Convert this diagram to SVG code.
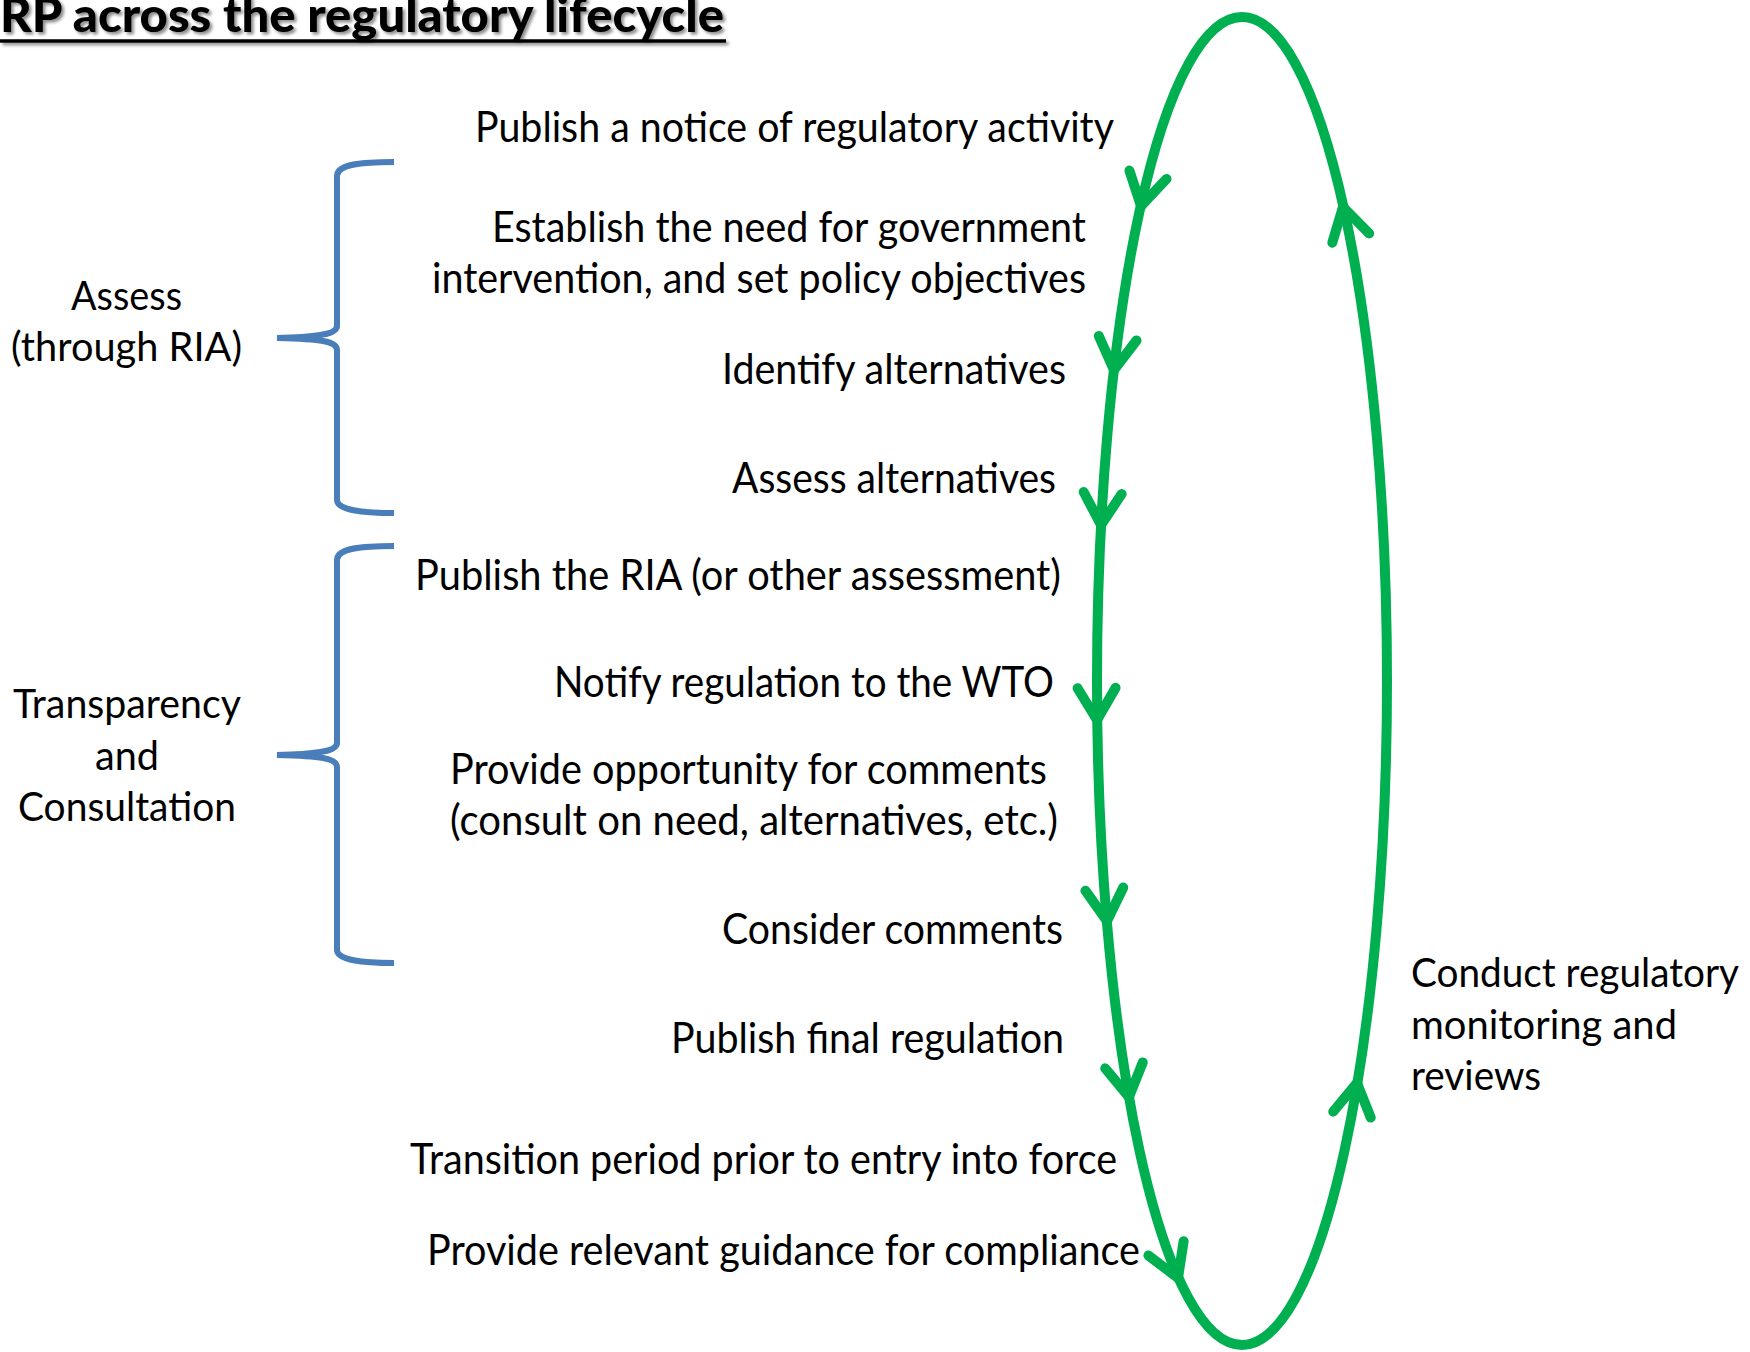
<svg xmlns="http://www.w3.org/2000/svg" xmlns:xlink="http://www.w3.org/1999/xlink" width="1750" height="1352" viewBox="0 0 1750 1352">
  <style>
    .t { font-family: Lato, "Open Sans", "Liberation Sans", sans-serif; font-size: 42px; fill: #000; }
    .lbl { font-family: Lato, "Open Sans", "Liberation Sans", sans-serif; font-size: 41px; fill: #000; }
    .title { font-family: Lato, "Liberation Sans", sans-serif; font-size: 47px; font-weight: 900; fill: #000; }
    .loop { fill: none; stroke: #00B050; stroke-width: 10; }
    .chev { fill: none; stroke: #00B050; stroke-width: 10; stroke-linecap: round; stroke-linejoin: round; }
    .brace { fill: none; stroke: #4A7EBB; stroke-width: 6; stroke-linecap: butt; }
  </style>
  <defs>
    <path id="chev" class="chev" d="M-19,-32 L0,0 L19,-32"/>
    <filter id="shadow" x="-5%" y="-50%" width="110%" height="200%">
      <feDropShadow dx="2.5" dy="2.5" stdDeviation="1.5" flood-color="#000" flood-opacity="0.45"/>
    </filter>
  </defs>
  <rect width="1750" height="1352" fill="#fff"/>

  <g id="title" filter="url(#shadow)">
    <text class="title" x="0" y="32" textLength="724" lengthAdjust="spacingAndGlyphs">RP across the regulatory lifecycle</text>
    <line x1="0" y1="41" x2="726" y2="41" stroke="#000" stroke-width="3.5"/>
  </g>

  <g id="connectors">
    <ellipse class="loop" cx="1242" cy="681" rx="145" ry="664"/>
    <use xlink:href="#chev" href="#chev" transform="translate(1141,206) rotate(12.6)"/>
    <use xlink:href="#chev" href="#chev" transform="translate(1114,370) rotate(6.6)"/>
    <use xlink:href="#chev" href="#chev" transform="translate(1101,525) rotate(3)"/>
    <use xlink:href="#chev" href="#chev" transform="translate(1097,720) rotate(-0.7)"/>
    <use xlink:href="#chev" href="#chev" transform="translate(1107,921) rotate(-4.8)"/>
    <use xlink:href="#chev" href="#chev" transform="translate(1129,1097) rotate(-9)"/>
    <use xlink:href="#chev" href="#chev" transform="translate(1178,1278) rotate(-22)"/>
    <use xlink:href="#chev" href="#chev" transform="translate(1343,207) rotate(166)"/>
    <use xlink:href="#chev" href="#chev" transform="translate(1357,1083) rotate(-171)"/>
  </g>

  <g id="brace-assess">
    <path class="brace" d="M394,162 C362,162 337,164 337,176 L337,326 C337,334 320,337 277,338 C320,339 337,341 337,350 L337,500 C337,510 362,513 394,513"/>
  </g>
  <g id="brace-transparency">
    <path class="brace" d="M394,546 C362,546 337,548 337,560 L337,743 C337,751 320,754 277,755 C320,756 337,758 337,767 L337,950 C337,960 362,963 394,963"/>
  </g>

  <g id="step-publish-notice"><text class="t" x="475" y="142" textLength="639" lengthAdjust="spacingAndGlyphs">Publish a notice of regulatory activity</text></g>
  <g id="step-establish-need">
    <text class="t" x="492" y="242" textLength="594" lengthAdjust="spacingAndGlyphs">Establish the need for government</text>
    <text class="t" x="432" y="293" textLength="654" lengthAdjust="spacingAndGlyphs">intervention, and set policy objectives</text>
  </g>
  <g id="step-identify"><text class="t" x="722" y="384" textLength="344" lengthAdjust="spacingAndGlyphs">Identify alternatives</text></g>
  <g id="step-assess"><text class="t" x="732" y="493" textLength="324" lengthAdjust="spacingAndGlyphs">Assess alternatives</text></g>
  <g id="step-publish-ria"><text class="t" x="415" y="590" textLength="646" lengthAdjust="spacingAndGlyphs">Publish the RIA (or other assessment)</text></g>
  <g id="step-notify-wto"><text class="t" x="554" y="697" textLength="500" lengthAdjust="spacingAndGlyphs">Notify regulation to the WTO</text></g>
  <g id="step-comments">
    <text class="t" x="450" y="784" textLength="597" lengthAdjust="spacingAndGlyphs">Provide opportunity for comments</text>
    <text class="t" x="450" y="835" textLength="608" lengthAdjust="spacingAndGlyphs">(consult on need, alternatives, etc.)</text>
  </g>
  <g id="step-consider"><text class="t" x="722" y="944" textLength="341" lengthAdjust="spacingAndGlyphs">Consider comments</text></g>
  <g id="step-publish-final"><text class="t" x="671" y="1053" textLength="393" lengthAdjust="spacingAndGlyphs">Publish final regulation</text></g>
  <g id="step-transition"><text class="t" x="410" y="1174" textLength="707" lengthAdjust="spacingAndGlyphs">Transition period prior to entry into force</text></g>
  <g id="step-guidance"><text class="t" x="427" y="1265" textLength="713" lengthAdjust="spacingAndGlyphs">Provide relevant guidance for compliance</text></g>

  <g id="label-assess">
    <text class="lbl" x="71" y="310" textLength="111" lengthAdjust="spacingAndGlyphs">Assess</text>
    <text class="lbl" x="11" y="361" textLength="231" lengthAdjust="spacingAndGlyphs">(through RIA)</text>
  </g>
  <g id="label-transparency">
    <text class="lbl" x="13" y="718" textLength="228" lengthAdjust="spacingAndGlyphs">Transparency</text>
    <text class="lbl" x="95" y="770" textLength="64" lengthAdjust="spacingAndGlyphs">and</text>
    <text class="lbl" x="18" y="821" textLength="218" lengthAdjust="spacingAndGlyphs">Consultation</text>
  </g>
  <g id="label-monitoring">
    <text class="lbl" x="1411" y="987" textLength="328" lengthAdjust="spacingAndGlyphs">Conduct regulatory</text>
    <text class="lbl" x="1411" y="1039" textLength="266" lengthAdjust="spacingAndGlyphs">monitoring and</text>
    <text class="lbl" x="1411" y="1090" textLength="130" lengthAdjust="spacingAndGlyphs">reviews</text>
  </g>
</svg>
